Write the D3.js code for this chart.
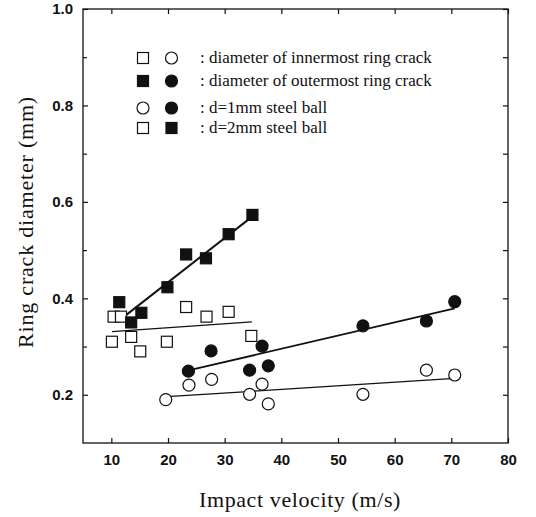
<!DOCTYPE html>
<html>
<head>
<meta charset="utf-8">
<script src="https://cdn.jsdelivr.net/npm/d3@7"></script>
<style>
	body { margin: 0; background: #fff; }
	svg { display: block; }
</style>
</head>
<body>
<div id="chart"></div>
<script>
// values
const xTicks = [10, 20, 30, 40, 50, 60, 70, 80];
const yTicks = [0.2, 0.4, 0.6, 0.8, 1.0];
const yMinor = [0.3, 0.5, 0.7, 0.9];

// d=2mm steel ball (squares)
const sqInnerV = [10.1, 10.4, 11.7, 13.5, 15.1, 19.8, 23.2, 26.8, 30.7, 34.7];
const sqInnerD = [0.31, 0.362, 0.362, 0.32, 0.29, 0.31, 0.382, 0.362, 0.372, 0.322];
const sqOuterV = [11.4, 13.5, 15.3, 19.9, 23.2, 26.7, 30.7, 34.9];
const sqOuterD = [0.392, 0.35, 0.37, 0.423, 0.491, 0.483, 0.533, 0.573];

// d=1mm steel ball (circles)
const ciInnerV = [19.6, 23.7, 27.7, 34.4, 36.6, 37.7, 54.4, 65.6, 70.6];
const ciInnerD = [0.19, 0.22, 0.232, 0.201, 0.222, 0.181, 0.201, 0.251, 0.241];
const ciOuterV = [23.6, 27.6, 34.4, 36.6, 37.7, 54.4, 65.6, 70.6];
const ciOuterD = [0.249, 0.291, 0.251, 0.301, 0.26, 0.343, 0.353, 0.393];

// fitted lines, start and end
const fitSqOuter = [[11.8, 0.358], [34.8, 0.569]];
const fitSqInner = [[10.1, 0.331], [34.8, 0.351]];
const fitCiOuter = [[23.8, 0.251], [70.6, 0.379]];
const fitCiInner = [[19.8, 0.196], [70.6, 0.234]];

const legendRows = [
	{ marks: ["sqOpen", "ciOpen"], label: ": diameter of innermost ring crack" },
	{ marks: ["sqFill", "ciFill"], label: ": diameter of outermost ring crack" },
	{ marks: ["ciOpen", "ciFill"], label: ": d=1mm steel ball" },
	{ marks: ["sqOpen", "sqFill"], label: ": d=2mm steel ball" }
];

const W = 536, H = 517;
const L = 83, R = 508, T = 9, B = 443;
const serif = "'Liberation Serif', 'Times New Roman', serif";
const sans = "'Liberation Sans', Arial, sans-serif";

const svg = d3.select("#chart").append("svg").attr("width", W).attr("height", H);

const x = d3.scaleLinear().domain([5, 80]).range([L, R]);
const y = d3.scaleLinear().domain([0.1, 1.0]).range([B, T]);

// frame
svg.append("rect")
	.attr("x", L).attr("y", T)
	.attr("width", R - L).attr("height", B - T)
	.attr("fill", "none").attr("stroke", "#111").attr("stroke-width", 1.3);

// axes with inward ticks
const bottomAxis = svg.append("g").attr("transform", `translate(0,${B})`)
	.call(d3.axisBottom(x).tickValues(xTicks).tickSizeInner(-5).tickSizeOuter(0).tickPadding(11).tickFormat(d3.format("d")));
const topAxis = svg.append("g").attr("transform", `translate(0,${T})`)
	.call(d3.axisTop(x).tickValues(xTicks).tickSizeInner(-5).tickSizeOuter(0).tickFormat(""));
const leftAxis = svg.append("g").attr("transform", `translate(${L},0)`)
	.call(d3.axisLeft(y).tickValues(yTicks).tickSizeInner(-5).tickSizeOuter(0).tickPadding(10).tickFormat(d3.format(".1f")));
const leftMinor = svg.append("g").attr("transform", `translate(${L},0)`)
	.call(d3.axisLeft(y).tickValues(yMinor).tickSizeInner(-4).tickSizeOuter(0).tickFormat(""));
const rightAxis = svg.append("g").attr("transform", `translate(${R},0)`)
	.call(d3.axisRight(y).tickValues(yTicks.concat(yMinor)).tickSizeInner(-5).tickSizeOuter(0).tickFormat(""));

[bottomAxis, topAxis, leftAxis, leftMinor, rightAxis].forEach(g => {
	g.select(".domain").remove();
	g.selectAll("line").attr("stroke", "#111").attr("stroke-width", 1.2);
	g.selectAll("text")
		.attr("fill", "#111")
		.attr("font-family", sans)
		.attr("font-size", "15px")
		.attr("font-weight", "bold");
});

// fit lines
const line = d3.line().x(d => x(d[0])).y(d => y(d[1]));
[[fitSqOuter, 2], [fitSqInner, 1.3], [fitCiOuter, 1.8], [fitCiInner, 1.3]].forEach(([pts, w]) => {
	svg.append("path").attr("d", line(pts))
		.attr("fill", "none").attr("stroke", "#111").attr("stroke-width", w);
});

function drawMark(g, kind, cx, cy) {
	if (kind.startsWith("sq")) {
		g.append("rect")
			.attr("x", cx - 5.5).attr("y", cy - 5.5)
			.attr("width", 11).attr("height", 11)
			.attr("fill", kind === "sqFill" ? "#111" : "#fff")
			.attr("stroke", "#111").attr("stroke-width", 1.2);
	} else {
		g.append("circle")
			.attr("cx", cx).attr("cy", cy).attr("r", 6)
			.attr("fill", kind === "ciFill" ? "#111" : "#fff")
			.attr("stroke", "#111").attr("stroke-width", 1.2);
	}
}

const pts = svg.append("g");
sqInnerV.forEach((v, i) => drawMark(pts, "sqOpen", x(v), y(sqInnerD[i])));
sqOuterV.forEach((v, i) => drawMark(pts, "sqFill", x(v), y(sqOuterD[i])));
ciInnerV.forEach((v, i) => drawMark(pts, "ciOpen", x(v), y(ciInnerD[i])));
ciOuterV.forEach((v, i) => drawMark(pts, "ciFill", x(v), y(ciOuterD[i])));

// legend
const legend = svg.append("g");
const rowY = [58, 81, 108, 128];
legendRows.forEach((row, i) => {
	row.marks.forEach((m, j) => drawMark(legend, m, 143 + j * 28.5, rowY[i]));
	legend.append("text")
		.attr("x", 200).attr("y", rowY[i] + 5)
		.attr("font-family", serif).attr("font-size", "17px")
		.attr("fill", "#111")
		.text(row.label);
});

// axis titles
svg.append("text")
	.attr("x", 300).attr("y", 507)
	.attr("text-anchor", "middle")
	.attr("font-family", serif).attr("font-size", "22px").attr("fill", "#111")
	.attr("letter-spacing", "0.6px")
	.text("Impact velocity (m/s)");

svg.append("text")
	.attr("transform", "translate(33,222) rotate(-90)")
	.attr("text-anchor", "middle")
	.attr("font-family", serif).attr("font-size", "22px").attr("fill", "#111")
	.attr("letter-spacing", "0.8px")
	.text("Ring crack diameter (mm)");
</script>
</body>
</html>
